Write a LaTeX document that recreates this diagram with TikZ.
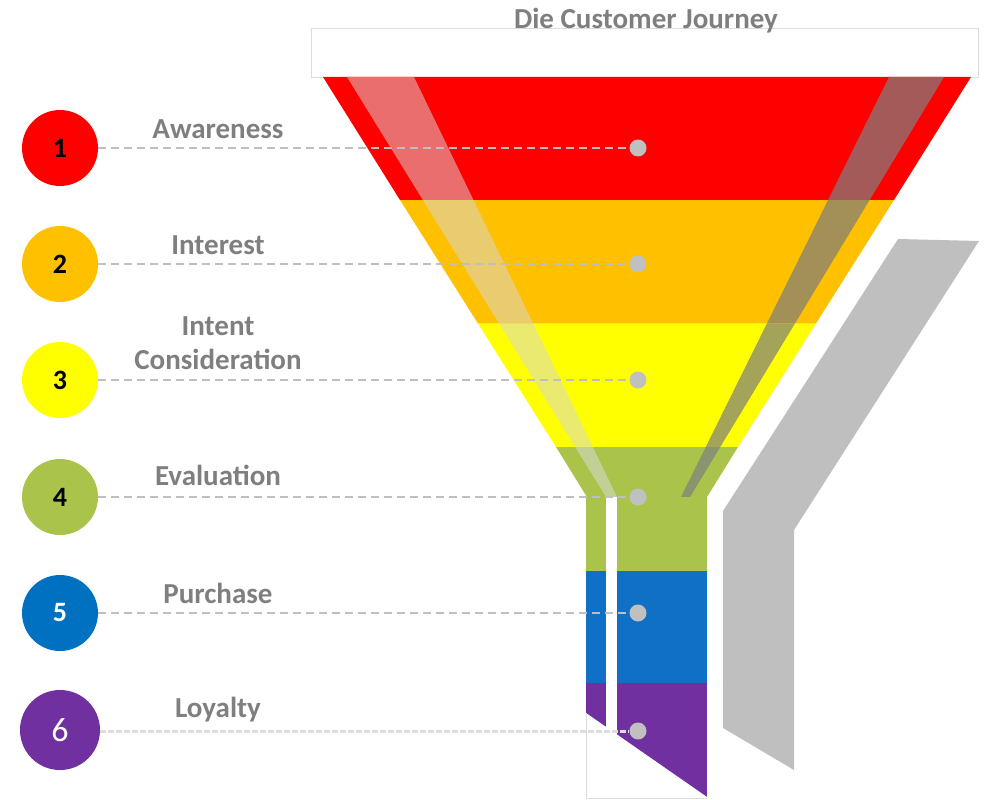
\documentclass[tikz,border=0pt]{standalone}
\usepackage{fontspec}
\setmainfont{Carlito}
\definecolor{c1}{HTML}{FF0000}
\definecolor{c2}{HTML}{FFC000}
\definecolor{c3}{HTML}{FFFF00}
\definecolor{c4}{HTML}{A9C34B}
\definecolor{c5}{HTML}{0070C0}
\definecolor{c5s}{HTML}{1070C6}
\definecolor{c6}{HTML}{7030A0}
\definecolor{h1}{RGB}{234,110,110}
\definecolor{h2}{RGB}{234,204,112}
\definecolor{h3}{RGB}{234,234,112}
\definecolor{h4}{RGB}{194,208,150}
\definecolor{s1}{RGB}{165,90,90}
\definecolor{s2}{RGB}{163,144,89}
\definecolor{s3}{RGB}{163,163,89}
\definecolor{s4}{RGB}{138,148,110}
\definecolor{txtgray}{HTML}{7F7F7F}
\definecolor{lineg}{HTML}{BFBFBF}
\definecolor{dotg}{HTML}{C0C0C0}
\definecolor{shapeg}{HTML}{BFBFBF}
\definecolor{rimg}{HTML}{DDDDDD}
\begin{document}
\begin{tikzpicture}[x=1pt,y=-1pt,
  lbl/.style={font=\bfseries\fontsize{29}{34}\selectfont, text=txtgray, anchor=base, inner sep=0pt, align=center},
  num/.style={circle, minimum size=76pt, inner sep=0pt, font=\bfseries\fontsize{28}{30}\selectfont},
  lead/.style={draw=lineg, line width=2pt, dash pattern=on 8pt off 5pt},
  leadsix/.style={draw=rimg, line width=3pt, dash pattern=on 6pt off 2pt},
  dot/.style={circle, fill=dotg, minimum size=17pt, inner sep=0pt}]
\useasboundingbox (0,0) rectangle (986,800);
% top rim
\draw[draw=rimg, fill=white, line width=0.8pt] (311,28) rectangle (978,77);
% funnel bands with stripes (highlight and shade)
\def\bandA{(323,77) -- (971,77) -- (894,200) -- (400,200) -- cycle}
\def\bandB{(400,200) -- (894,200) -- (816,323.5) -- (478,323.5) -- cycle}
\def\bandC{(478,323.5) -- (816,323.5) -- (738,447) -- (556,447) -- cycle}
\def\bandD{(556,447) -- (738,447) -- (707,497) -- (587,497) -- cycle}
\def\hstripe{(347,77) -- (414,77) -- (617,497) -- (606,497) -- cycle}
\def\sstripe{(889,77) -- (944,77) -- (690,497) -- (681,497) -- cycle}
\fill[c1] \bandA;
\fill[c2] \bandB;
\fill[c3] \bandC;
\fill[c4] \bandD;
\begin{scope}\clip \bandA; \fill[h1] \hstripe; \fill[s1] \sstripe; \end{scope}
\begin{scope}\clip \bandB; \fill[h2] \hstripe; \fill[s2] \sstripe; \end{scope}
\begin{scope}\clip \bandC; \fill[h3] \hstripe; \fill[s3] \sstripe; \end{scope}
\begin{scope}\clip \bandD; \fill[h4] \hstripe; \fill[s4] \sstripe; \end{scope}
% stem
\fill[c4] (586,497) rectangle (707,571);
\fill[c5s] (586,571) rectangle (707,683);
\fill[c6] (586,683) rectangle (707,798);
\fill[white] (606,497) rectangle (617,798);
% bottom cut
\fill[white] (586,713) -- (707,797) -- (707,799) -- (586,799) -- cycle;
\draw[rimg, line width=0.8pt] (586,713) -- (586,798) -- (707,798);
% side shape
\fill[shapeg] (898,239) -- (979,241) -- (794,530) -- (794,770) -- (723,728) -- (723,511) -- cycle;
% dots
\node[dot] (d1) at (638,148) {};
\node[dot] (d2) at (638,264) {};
\node[dot] (d3) at (638,380) {};
\node[dot] (d4) at (638,497) {};
\node[dot] (d5) at (638,613) {};
\node[dot] (d6) at (638,731) {};
% numbered circles
\node[num, fill=c1, text=black] (n1) at (60,148) {1};
\node[num, fill=c2, text=black] (n2) at (60,264) {2};
\node[num, fill=c3, text=black] (n3) at (60,380) {3};
\node[num, fill=c4, text=black] (n4) at (60,497) {4};
\node[num, fill=c5, text=white] (n5) at (60,613) {5};
\node[num, fill=c6, text=white, minimum size=80pt, font=\fontsize{34}{36}\selectfont] (n6) at (60,730) {6};
% leaders
\draw[lead] (n1) -- (d1);
\draw[lead] (n2) -- (d2);
\draw[lead] (n3) -- (d3);
\draw[lead] (n4) -- (d4);
\draw[lead] (n5) -- (d5);
\draw[leadsix] (n6.east |- d6) -- (d6);
% labels
\node[lbl] (l1) at (218,139) {Awareness};
\node[lbl] (l2) at (218,254) {Interest};
\node[lbl] (l3) at (218,369) {Intent\\Consideration};
\node[lbl] (l4) at (218,485) {Evaluation};
\node[lbl] (l5) at (218,603) {Purchase};
\node[lbl] (l6) at (218,717) {Loyalty};
% title
\node[lbl] (title) at (646,29) {Die Customer Journey};
\end{tikzpicture}
\end{document}
